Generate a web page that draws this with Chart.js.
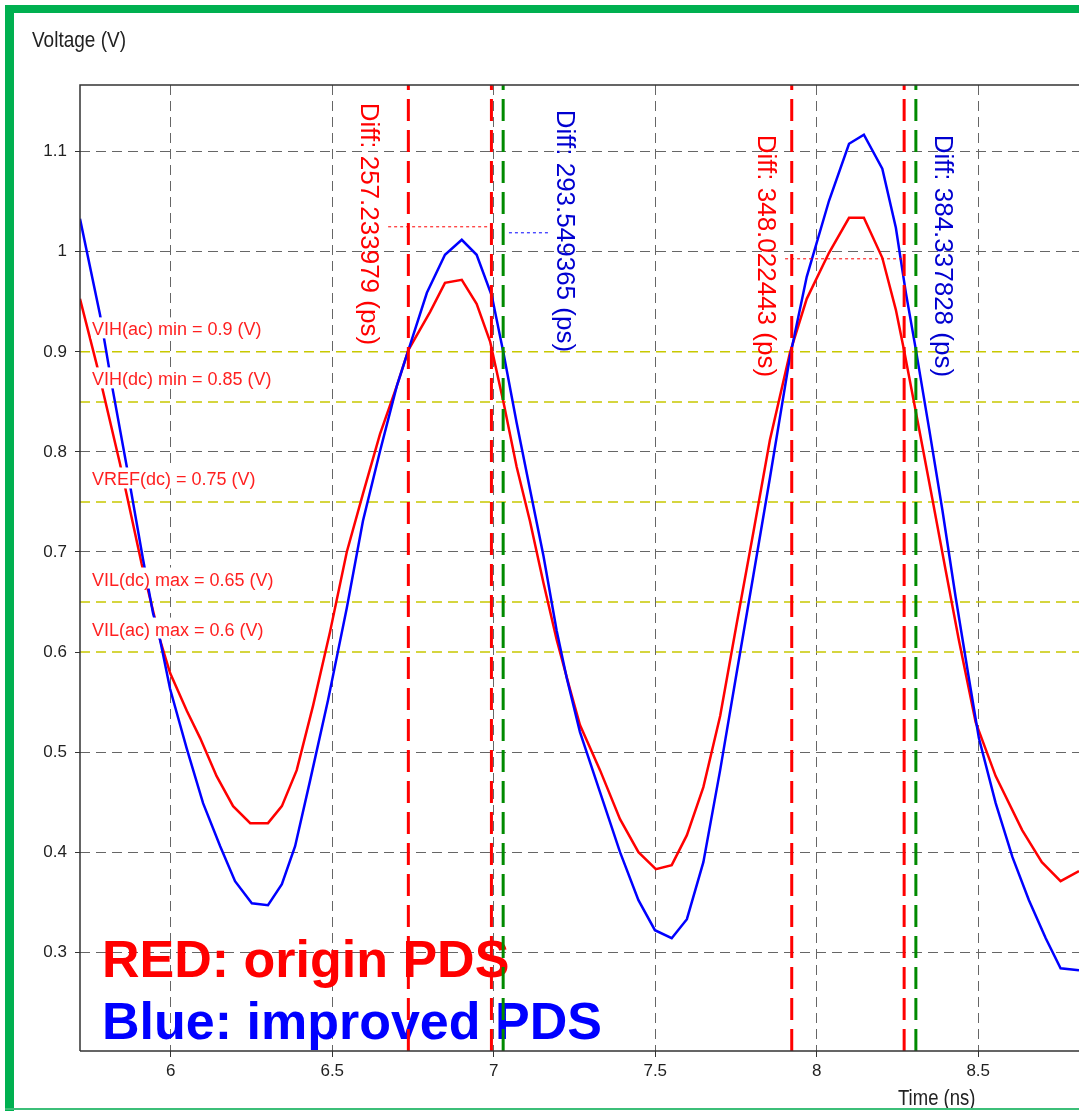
<!DOCTYPE html>
<html>
<head>
<meta charset="utf-8">
<script src="https://cdn.jsdelivr.net/npm/chart.js@4.4.0/dist/chart.umd.min.js"></script>
<style>
  html, body { margin: 0; padding: 0; background: #fff; }
</style>
</head>
<body>
<canvas id="myChart" width="1079" height="1111"></canvas>
<script>
// waveform samples (time in ns, voltage in V)
const redTime = [5.719, 5.771, 5.843, 5.910, 5.967, 5.998, 6.050, 6.091, 6.142, 6.193, 6.246, 6.301, 6.344, 6.390, 6.441, 6.493, 6.545, 6.595, 6.648, 6.700, 6.736, 6.803, 6.849, 6.901, 6.947, 6.989, 7.030, 7.071, 7.112, 7.154, 7.195, 7.236, 7.267, 7.329, 7.391, 7.448, 7.502, 7.551, 7.598, 7.649, 7.701, 7.752, 7.804, 7.855, 7.917, 7.969, 8.038, 8.100, 8.146, 8.203, 8.245, 8.270, 8.317, 8.358, 8.399, 8.440, 8.492, 8.554, 8.636, 8.697, 8.755, 8.812];
const redVolt = [0.953, 0.887, 0.788, 0.688, 0.612, 0.579, 0.541, 0.514, 0.476, 0.446, 0.429, 0.429, 0.446, 0.482, 0.547, 0.620, 0.700, 0.758, 0.818, 0.866, 0.902, 0.940, 0.969, 0.972, 0.948, 0.910, 0.850, 0.785, 0.731, 0.669, 0.612, 0.563, 0.527, 0.482, 0.433, 0.400, 0.383, 0.387, 0.417, 0.465, 0.536, 0.628, 0.720, 0.812, 0.899, 0.953, 0.999, 1.034, 1.034, 0.994, 0.942, 0.902, 0.823, 0.753, 0.682, 0.612, 0.530, 0.476, 0.422, 0.390, 0.371, 0.381];

const blueTime = [5.719, 5.781, 5.821, 5.864, 5.914, 5.945, 5.967, 5.998, 6.050, 6.100, 6.153, 6.199, 6.251, 6.301, 6.344, 6.385, 6.431, 6.487, 6.545, 6.595, 6.648, 6.700, 6.736, 6.793, 6.849, 6.901, 6.947, 6.994, 7.030, 7.071, 7.112, 7.154, 7.195, 7.226, 7.267, 7.329, 7.391, 7.448, 7.499, 7.551, 7.598, 7.649, 7.701, 7.752, 7.804, 7.855, 7.917, 7.969, 8.038, 8.100, 8.146, 8.203, 8.245, 8.276, 8.307, 8.348, 8.389, 8.430, 8.471, 8.502, 8.554, 8.606, 8.657, 8.709, 8.755, 8.812];
const blueVolt = [1.033, 0.937, 0.861, 0.785, 0.693, 0.639, 0.612, 0.563, 0.503, 0.449, 0.406, 0.371, 0.349, 0.347, 0.368, 0.406, 0.471, 0.552, 0.644, 0.731, 0.801, 0.866, 0.902, 0.959, 0.997, 1.012, 0.997, 0.956, 0.899, 0.829, 0.763, 0.696, 0.621, 0.574, 0.520, 0.460, 0.400, 0.352, 0.322, 0.314, 0.333, 0.390, 0.482, 0.579, 0.677, 0.774, 0.895, 0.975, 1.051, 1.108, 1.117, 1.083, 1.024, 0.959, 0.902, 0.823, 0.742, 0.655, 0.574, 0.514, 0.449, 0.395, 0.352, 0.314, 0.284, 0.282];

const xTicks = [6, 6.5, 7, 7.5, 8, 8.5];
const yTicks = [0.3, 0.4, 0.5, 0.6, 0.7, 0.8, 0.9, 1, 1.1];

const thresholds = [0.9, 0.85, 0.75, 0.65, 0.6];
const thresholdLabels = ["VIH(ac) min = 0.9 (V)", "VIH(dc) min = 0.85 (V)", "VREF(dc) = 0.75 (V)", "VIL(dc) max = 0.65 (V)", "VIL(ac) max = 0.6 (V)"];

// crossing markers (ns)
const redMarkers = [6.7356, 6.99283, 7.9226, 8.27062];
const greenMarkers = [7.02915, 8.30694];
const diffLabels = ["Diff: 257.233979 (ps)", "Diff: 293.549365 (ps)", "Diff: 348.022443 (ps)", "Diff: 384.337828 (ps)"];

const xMin = 5.719, xMax = 8.812;
const yMin = 0.2013, yMax = 1.1667;

const FONT = '"Liberation Sans", Arial, sans-serif';

const ctx = document.getElementById("myChart");

const toPoints = (xs, ys) => xs.map((x, i) => ({ x: x, y: ys[i] }));

const datasets = [];

redMarkers.forEach((t) => {
  datasets.push({
    data: [{ x: t, y: yMin }, { x: t, y: yMax }],
    borderColor: "#ff0000",
    borderWidth: 3,
    borderDash: [22, 9],
  });
});
greenMarkers.forEach((t) => {
  datasets.push({
    data: [{ x: t, y: yMin }, { x: t, y: yMax }],
    borderColor: "#008a00",
    borderWidth: 3,
    borderDash: [22, 9],
  });
});

// little dotted leaders next to the diff labels
datasets.push({ data: [{ x: 6.673, y: 1.025 }, { x: 6.993, y: 1.025 }], borderColor: "#ff0000", borderWidth: 1, borderDash: [3, 3] });
datasets.push({ data: [{ x: 7.047, y: 1.019 }, { x: 7.171, y: 1.019 }], borderColor: "#0000ff", borderWidth: 1, borderDash: [3, 3] });
datasets.push({ data: [{ x: 7.902, y: 0.993 }, { x: 8.267, y: 0.993 }], borderColor: "#ff0000", borderWidth: 1, borderDash: [3, 3] });

datasets.push({ data: toPoints(blueTime, blueVolt), borderColor: "#0000ff", borderWidth: 2.5 });
datasets.push({ data: toPoints(redTime, redVolt), borderColor: "#ff0000", borderWidth: 2.5 });

thresholds.forEach((v) => {
  datasets.push({
    data: [{ x: xMin, y: v }, { x: xMax, y: v }],
    borderColor: "#c8c800",
    borderWidth: 1.5,
    borderDash: [10, 6],
  });
});

datasets.forEach((d) => {
  d.pointRadius = 0;
  d.tension = 0;
  d.fill = false;
});

const overlay = {
  id: "overlay",
  beforeDraw(chart) {
    const c = chart.ctx;
    c.save();
    c.fillStyle = "#fff";
    c.fillRect(0, 0, chart.width, chart.height);
    c.restore();
  },
  beforeDatasetsDraw(chart) {
    const c = chart.ctx;
    c.save();
    c.font = "bold 52px " + FONT;
    c.textAlign = "left";
    c.textBaseline = "alphabetic";
    c.fillStyle = "#ff0000";
    c.fillText("RED: origin PDS", 102, 977);
    c.fillStyle = "#0000ff";
    c.fillText("Blue: improved PDS", 102, 1039);
    c.restore();
  },
  afterDatasetsDraw(chart) {
    const c = chart.ctx;
    const xs = chart.scales.x;
    const ys = chart.scales.y;
    const area = chart.chartArea;
    c.save();

    // threshold labels on white boxes
    c.font = "18px " + FONT;
    c.textAlign = "left";
    c.textBaseline = "alphabetic";
    thresholds.forEach((v, i) => {
      const y = ys.getPixelForValue(v) - 16.5;
      const w = c.measureText(thresholdLabels[i]).width;
      c.fillStyle = "#fff";
      c.fillRect(91, y - 18, w + 2, 21);
      c.fillStyle = "#ff2020";
      c.fillText(thresholdLabels[i], 92, y);
    });

    // rotated diff labels
    const anchors = [[6.611, 1.149], [7.218, 1.142], [7.840, 1.117], [8.388, 1.117]];
    const colors = ["#ff0000", "#0000d0", "#ff0000", "#0000d0"];
    c.font = "26px " + FONT;
    diffLabels.forEach((txt, i) => {
      c.save();
      c.translate(xs.getPixelForValue(anchors[i][0]), ys.getPixelForValue(anchors[i][1]));
      c.rotate(Math.PI / 2);
      c.textBaseline = "middle";
      c.fillStyle = colors[i];
      c.fillText(txt, 0, 0);
      c.restore();
    });

    // plot frame
    c.strokeStyle = "#333";
    c.lineWidth = 1.5;
    c.beginPath();
    c.moveTo(area.left, area.bottom);
    c.lineTo(area.left, area.top);
    c.lineTo(area.right + 2, area.top);
    c.moveTo(area.left, area.bottom);
    c.lineTo(area.right + 2, area.bottom);
    c.stroke();

    // axis titles
    c.fillStyle = "#222";
    c.font = "19px " + FONT;
    c.save();
    c.translate(32, 47);
    c.scale(1, 1.15);
    c.fillText("Voltage (V)", 0, 0);
    c.restore();
    c.save();
    c.font = "18.5px " + FONT;
    c.translate(898, 1105);
    c.scale(1, 1.15);
    c.fillText("Time (ns)", 0, 0);
    c.restore();

    // green outer frame
    c.fillStyle = "#00b050";
    c.fillRect(5, 5, chart.width - 5, 8);
    c.fillRect(5, 5, 9, chart.height - 5);
    c.fillStyle = "#3cbf78";
    c.fillRect(5, 1108, chart.width - 5, 2);
    c.restore();
  },
};

new Chart(ctx, {
  type: "line",
  data: { datasets: datasets },
  options: {
    responsive: false,
    animation: false,
    layout: { padding: { top: 85, left: 0, right: 0, bottom: 0 } },
    plugins: { legend: { display: false }, tooltip: { enabled: false } },
    scales: {
      x: {
        type: "linear",
        min: xMin,
        max: xMax,
        afterBuildTicks: (axis) => {
          axis.ticks = xTicks.map((v) => ({ value: v }));
        },
        afterFit: (axis) => {
          axis.height = 60;
        },
        ticks: {
          color: "#222",
          font: { family: FONT, size: 17 },
          padding: 4,
          maxRotation: 0,
          callback: (v) => String(v),
        },
        grid: {
          color: "#666",
          lineWidth: 1,
          tickLength: 6,
          tickColor: "#333",
        },
        border: { display: false, dash: [10, 6] },
      },
      y: {
        type: "linear",
        min: yMin,
        max: yMax,
        afterBuildTicks: (axis) => {
          axis.ticks = yTicks.map((v) => ({ value: v }));
        },
        afterFit: (axis) => {
          axis.width = 80;
        },
        ticks: {
          color: "#222",
          font: { family: FONT, size: 17 },
          padding: 8,
          callback: (v) => String(v),
        },
        grid: {
          color: (c) => (c.tick && (c.tick.value === 0.9 || c.tick.value === 0.6) ? "rgba(0,0,0,0)" : "#666"),
          lineWidth: 1,
          tickLength: 5,
          tickColor: "#333",
        },
        border: { display: false, dash: [10, 6] },
      },
    },
  },
  plugins: [overlay],
});
</script>
</body>
</html>
